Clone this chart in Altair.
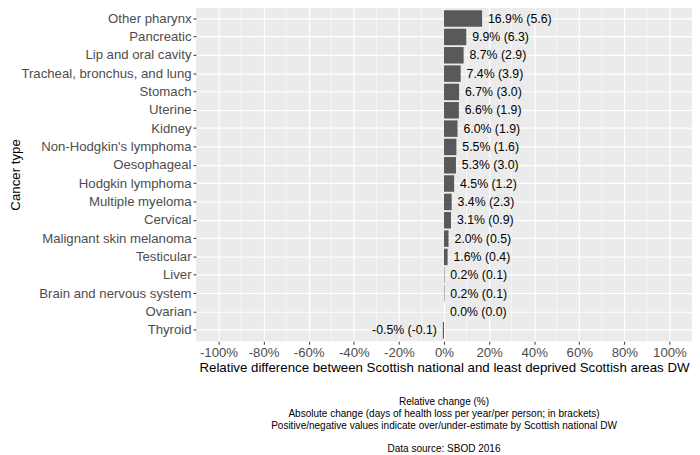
import altair as alt
import pandas as pd

categories = ["Other pharynx", "Pancreatic", "Lip and oral cavity", "Tracheal, bronchus, and lung",
              "Stomach", "Uterine", "Kidney", "Non-Hodgkin's lymphoma", "Oesophageal",
              "Hodgkin lymphoma", "Multiple myeloma", "Cervical", "Malignant skin melanoma",
              "Testicular", "Liver", "Brain and nervous system", "Ovarian", "Thyroid"]
rel_change = [16.9, 9.9, 8.7, 7.4, 6.7, 6.6, 6.0, 5.5, 5.3, 4.5, 3.4, 3.1, 2.0, 1.6, 0.2, 0.2, 0.0, -0.5]
abs_change = [5.6, 6.3, 2.9, 3.9, 3.0, 1.9, 1.9, 1.6, 3.0, 1.2, 2.3, 0.9, 0.5, 0.4, 0.1, 0.1, 0.0, -0.1]

major_ticks = [-1.0, -0.8, -0.6, -0.4, -0.2, 0.0, 0.2, 0.4, 0.6, 0.8, 1.0]
minor_ticks = [-0.9, -0.7, -0.5, -0.3, -0.1, 0.1, 0.3, 0.5, 0.7, 0.9]

caption_lines = ["Relative change (%)",
                 "Absolute change (days of health loss per year/per person; in brackets)",
                 "Positive/negative values indicate over/under-estimate by Scottish national DW"]
source_line = "Data source: SBOD 2016"

df = pd.DataFrame({
    "cancer": categories,
    "rel": [v / 100 for v in rel_change],
    "label": [f"{r:.1f}% ({a:.1f})" for r, a in zip(rel_change, abs_change)],
})
minor_df = pd.DataFrame({"v": minor_ticks})

FONT = "Liberation Sans"
LBL = 13.4

x_scale = alt.Scale(domain=[-1.1, 1.1], nice=False, zero=False)
y_enc = alt.Y("cancer:N", sort=categories,
              scale=alt.Scale(paddingInner=0.1, paddingOuter=0.15),
              axis=alt.Axis(title="Cancer type", titleFontSize=13.5, titleColor="black",
                            titleFontWeight="normal", titleFont=FONT, titlePadding=-2,
                            labelFont=FONT, labelFontSize=LBL, labelColor="#4D4D4D",
                            labelPadding=2, tickSize=3, tickColor="#333333", tickWidth=1,
                            domain=False, grid=True, gridColor="white", gridWidth=1.2,
                            bandPosition=0.5))

x_axis = alt.Axis(values=major_ticks, title="Relative difference between Scottish national and least deprived Scottish areas DW",
                  labelExpr="(datum.value < 0 ? '-' : '') + format(abs(datum.value) * 100, '.0f') + '%'",
                  titleFontSize=13.5, titleColor="black", titleFontWeight="normal", titleFont=FONT,
                  titlePadding=2, labelFont=FONT, labelFontSize=LBL, labelColor="#4D4D4D",
                  labelPadding=1, tickSize=3, tickColor="#333333", tickWidth=1,
                  domain=False, grid=True, gridColor="white", gridWidth=1.2)

minor = alt.Chart(minor_df).mark_rule(color="white", strokeWidth=0.6).encode(
    x=alt.X("v:Q", scale=x_scale, axis=x_axis)
)

bars = alt.Chart(df).mark_bar(color="#595959").encode(
    y=y_enc,
    x=alt.X("rel:Q", scale=x_scale, axis=x_axis),
)

pos_text = alt.Chart(df).transform_filter("datum.rel >= 0").mark_text(
    align="left", baseline="middle", dx=6, font=FONT, fontSize=12.5, color="black"
).encode(y=alt.Y("cancer:N", sort=categories), x=alt.X("rel:Q", scale=x_scale), text="label:N")

neg_text = alt.Chart(df).transform_filter("datum.rel < 0").mark_text(
    align="right", baseline="middle", dx=-6, font=FONT, fontSize=12.5, color="black"
).encode(y=alt.Y("cancer:N", sort=categories), x=alt.X("rel:Q", scale=x_scale), text="label:N")

chart = alt.layer(minor, bars, pos_text, neg_text).properties(
    width=504, height=339,
    padding={"left": 1, "top": -5, "right": 0, "bottom": 0},
    background="white",
    title=alt.TitleParams(text=caption_lines, subtitle=source_line, orient="bottom",
                          anchor="middle",
                          fontSize=10.2, fontWeight="normal", color="black", font=FONT,
                          lineHeight=12,
                          subtitleFontSize=10.2, subtitleColor="black", subtitleFont=FONT,
                          subtitlePadding=13, offset=24),
).configure_view(fill="#EBEBEB", strokeWidth=0)

chart.save("out.html", embed_options={"renderer": "svg", "actions": False})
